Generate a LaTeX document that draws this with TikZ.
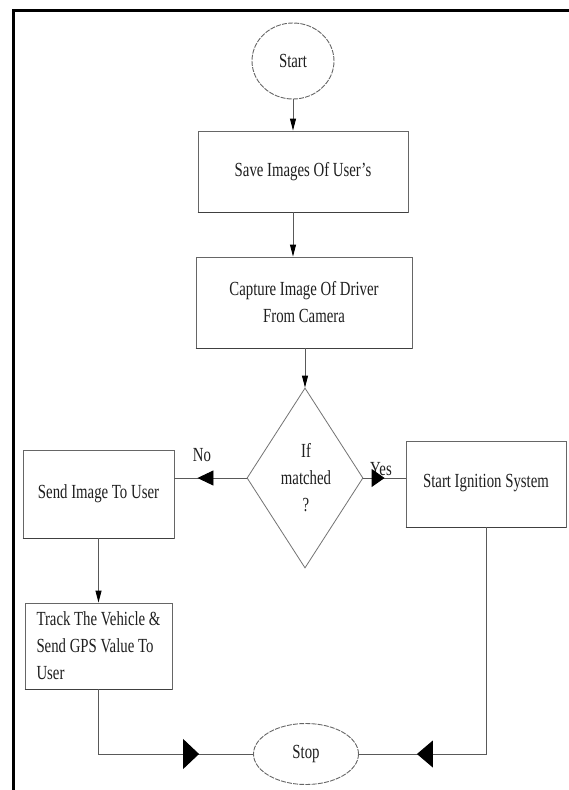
\documentclass[tikz,border=0pt]{standalone}
\usepackage{fontspec}
\setmainfont{Liberation Serif}[FakeStretch=0.74]
\usetikzlibrary{shapes.geometric,arrows.meta,decorations.markings}
\begin{document}
\begin{tikzpicture}[x=1pt,y=-1pt,
  every node/.style={font=\fontsize{20}{27}\selectfont, text=black!88},
  procbox/.style={draw=black!60, line width=0.9pt, rectangle, inner sep=0pt},
  boxbottom/.style={draw=black!75, line width=1.8pt},
  terminal/.style={draw=black!60, line width=0.9pt, ellipse, dash pattern=on 5pt off 1.2pt, inner sep=0pt},
  conn/.style={draw=black!65, line width=0.9pt},
  smallarrow/.style={conn, -{Triangle[length=12pt,width=6pt,color=black]}},
  midarrow/.style n args={3}{conn, postaction={decorate},
    decoration={markings, mark=at position #1 with {\arrow{Triangle[length=#2,width=#3,color=black]}}}},
  lbl/.style={inner sep=0pt}
]
\useasboundingbox (0,0) rectangle (569,790);
\fill[white] (0,0) rectangle (569,790);
% frame
\draw[line width=3.5pt] (13.5,790) -- (13.5,10.5) -- (569,10.5);

% nodes
\node[terminal, minimum width=82pt, minimum height=76pt] (start) at (293,61) {Start};
\node[procbox, minimum width=210pt, minimum height=81pt] (save) at (303,171.5) {Save Images Of User's};
\node[procbox, minimum width=216pt, minimum height=91pt, align=center] (capture) at (304,302.5) {Capture Image Of Driver\\From Camera};
\node[draw=black!55, line width=0.8pt, diamond, minimum width=116pt, minimum height=180pt, inner sep=0pt] (dec) at (305,478) {};
\node[align=center] (dectext) at (306,478) {If\\matched\\?};
\node[procbox, minimum width=160pt, minimum height=86pt] (ign) at (486,484) {\raisebox{7pt}{Start Ignition System}};
\node[procbox, minimum width=151pt, minimum height=88pt] (send) at (98.5,494) {Send Image To User};
\node[procbox, minimum width=147pt, minimum height=86pt, align=left] (track) at (98.5,646) {Track The Vehicle \&\\Send GPS Value To\\User};
\node[terminal, minimum width=105pt, minimum height=61pt] (stop) at (306,754) {Stop};

% heavier bottom edges
\draw[boxbottom] (save.south west) -- (save.south east);
\draw[boxbottom] (capture.south west) -- (capture.south east);
\draw[boxbottom] (ign.south west) -- (ign.south east);
\draw[boxbottom] (send.south west) -- (send.south east);
\draw[boxbottom] (track.south west) -- (track.south east);

% labels
\node[lbl] (nolbl) at (202,455) {No};
\node[lbl] (yeslbl) at (381,469) {Yes};

% connectors
\draw[smallarrow] (start.south) -- (start.south |- save.north);
\draw[smallarrow] (save.south -| start.south) -- (capture.north -| start.south);
\draw[smallarrow] (capture.south -| dec.north) -- (dec.north);
\draw[midarrow={-23pt}{16pt}{15pt}] (dec.west) -- (dec.west -| send.east);
\draw[midarrow={-21pt}{13pt}{18pt}] (dec.east) -- (dec.east -| ign.west);
\draw[smallarrow] (send.south) -- (track.north);
\draw[midarrow={-54pt}{16pt}{30pt}] (track.south) |- (stop.west);
\draw[midarrow={-58pt}{16pt}{27pt}] (ign.south) |- (stop.east);
\end{tikzpicture}
\end{document}
